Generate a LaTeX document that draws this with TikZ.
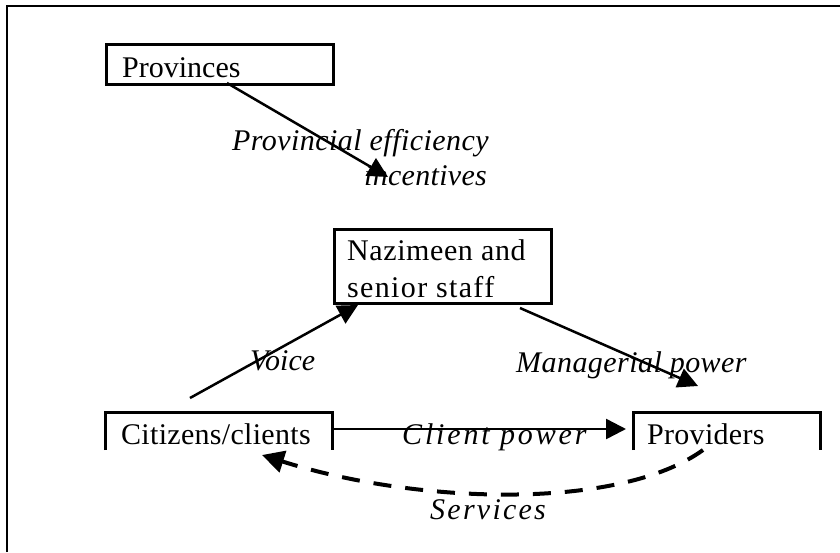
\documentclass[tikz,border=0pt]{standalone}
\usepackage{fontspec}
\setmainfont{Liberation Serif}
\usetikzlibrary{arrows.meta}
\begin{document}
\begin{tikzpicture}[x=1pt,y=-1pt,
  boxline/.style={line width=3pt},
  lbl/.style={font=\fontsize{30}{36}\selectfont, inner sep=0pt, anchor=base west},
  ilbl/.style={lbl, font=\fontsize{30}{36}\selectfont\itshape},
  ls/.style={font=\fontsize{30}{36}\selectfont\addfontfeatures{LetterSpace=#1}},
  ils/.style={font=\fontsize{30}{36}\selectfont\itshape\addfontfeatures{LetterSpace=#1}},
  conn/.style={line width=2.5pt, -{Triangle[length=20pt,width=20pt]}},
  svc/.style={line width=4pt, dash pattern=on 18pt off 14pt, -{Triangle[length=22pt,width=22pt]}}
]
\useasboundingbox (0,0) rectangle (840,552);
% outer frame (top and left only)
\draw[line width=2.5pt] (7,552) -- (7,6) -- (840,6);

% boxes
\node[draw, boxline, minimum width=227pt, minimum height=40pt, anchor=north west, inner sep=0pt] (prov) at (105,43) {};
\node[draw, boxline, minimum width=217pt, minimum height=74pt, anchor=north west, inner sep=0pt] (naz) at (333,228) {};
\draw[boxline] (105,450) |- (332,412) -- (332,450);
\draw[boxline] (633,450) |- (820,412) -- (820,450);

% box texts
\node[lbl] (provt) at (122,77) {Provinces};
\node[lbl, ls=2] (nazt1) at (347,260) {Nazimeen and};
\node[lbl, ls=4.5] (nazt2) at (347,297) {senior staff};
\node[lbl, ls=1] (citt) at (121,444) {Citizens/clients};
\node[lbl, ls=1] (prvt) at (647,444) {Providers};

% connector endpoints
\coordinate (provout) at (227,83);
\coordinate (inctip) at (388,177);
\coordinate (citout) at (190,398);
\coordinate (naztip) at (358,305);
\coordinate (nazout) at (520,308);
\coordinate (prvtip) at (698,386);
\coordinate (citright) at (332,429);
\coordinate (prvleft) at (626,429);
\coordinate (prvbot) at (703,450);
\coordinate (citbot) at (262,455);

% connectors
\draw[conn] (provout) -- (inctip);
\draw[conn] (citout) -- (naztip);
\draw[conn] (nazout) -- (prvtip);
\draw[conn] (citright) -- (prvleft);
\draw[svc] (prvbot) .. controls (620,510) and (420,505) .. (citbot);

% labels
\node[ilbl, ils=1.5] (l1) at (232,150) {Provincial efficiency};
\node[ilbl, ils=1, anchor=base east] (l2) at (487,185) {incentives};
\node[ilbl] (l3) at (250,370) {Voice};
\node[ilbl, ils=1.5] (l4) at (516,372) {Managerial power};
\node[ilbl, ils=9.5] (l5) at (402,444) {Client power};
\node[ilbl, ils=7.5] (l6) at (430,519) {Services};
\end{tikzpicture}
\end{document}
